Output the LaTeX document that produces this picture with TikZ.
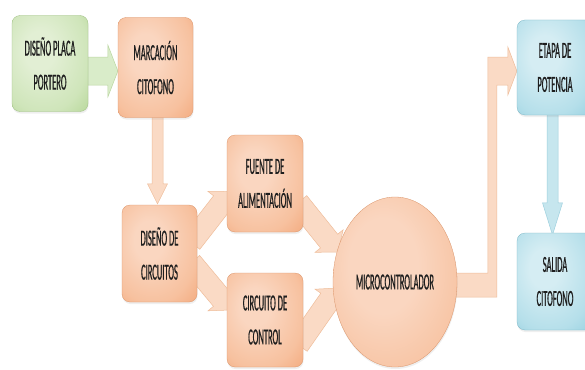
\documentclass[tikz,border=0pt]{standalone}
\usepackage{fontspec}
\newfontfamily\bfnt[FakeStretch=0.37,FakeBold=0.6]{Carlito}
\usetikzlibrary{calc,shapes.geometric,shadows}
\pgfdeclarelayer{bg}
\pgfsetlayers{bg,main}
\definecolor{gIn}{HTML}{E2EFD4}
\definecolor{gMid}{HTML}{CFE5BA}
\definecolor{gOut}{HTML}{AFD38F}
\definecolor{sIn}{HTML}{FAD6C0}
\definecolor{sMid}{HTML}{F7C19F}
\definecolor{sOut}{HTML}{F2A374}
\definecolor{bIn}{HTML}{D5EDF3}
\definecolor{bMid}{HTML}{B5DFEA}
\definecolor{bOut}{HTML}{8ACBDC}
\definecolor{sArr}{HTML}{FADAC5}
\definecolor{sArrD}{HTML}{EFBD9A}
\definecolor{gArr}{HTML}{D9ECC9}
\definecolor{gArrD}{HTML}{BAD7A1}
\definecolor{bArr}{HTML}{C6E6EE}
\definecolor{bArrD}{HTML}{9DD0DE}
\definecolor{txt}{HTML}{1E1E1E}
\pgfdeclareradialshading{shG}{\pgfpoint{-8bp}{8bp}}{color(0bp)=(gIn); color(10bp)=(gIn); color(30bp)=(gMid); color(45bp)=(gOut); color(70bp)=(gOut)}
\pgfdeclareradialshading{shS}{\pgfpoint{-8bp}{8bp}}{color(0bp)=(sIn); color(10bp)=(sIn); color(30bp)=(sMid); color(45bp)=(sOut); color(70bp)=(sOut)}
\pgfdeclareradialshading{shB}{\pgfpoint{-8bp}{8bp}}{color(0bp)=(bIn); color(10bp)=(bIn); color(30bp)=(bMid); color(45bp)=(bOut); color(70bp)=(bOut)}
\pgfdeclareradialshading{shE}{\pgfpoint{-6bp}{6bp}}{color(0bp)=(sIn); color(14bp)=(sIn); color(34bp)=(sMid); color(48bp)=(sOut); color(70bp)=(sOut)}
\newcommand\barrow[6]{%
  \coordinate (tmpA) at (#2); \coordinate (tmpB) at (#3);
  \coordinate (tmpH) at ($(tmpB)!#6!(tmpA)$);
  \path[#1] ($(tmpA)!#4!90:(tmpB)$) -- ($(tmpH)!#4!90:(tmpB)$) -- ($(tmpH)!#5!90:(tmpB)$)
    -- (tmpB) -- ($(tmpH)!#5!-90:(tmpB)$) -- ($(tmpH)!#4!-90:(tmpB)$) -- ($(tmpA)!#4!-90:(tmpB)$) -- cycle;
}
\begin{document}
\begin{tikzpicture}[x=1pt,y=-1pt,
  boxbase/.style={rounded corners=8pt, align=center, text=txt, inner sep=0pt,
    font=\bfnt\fontsize{23}{34}\selectfont,
    drop shadow={opacity=0.12, shadow xshift=0.5pt, shadow yshift=-2pt}},
  gbox/.style={boxbase, draw=gOut!90!black, line width=0.3pt, shading=shG},
  sbox/.style={boxbase, draw=sOut!90!black, line width=0.3pt, shading=shS},
  bbox/.style={boxbase, draw=bOut!90!black, line width=0.3pt, shading=shB},
  sarrow/.style={fill=sArr, draw=sArrD, line width=0.5pt},
  garrow/.style={fill=gArr, draw=gArrD, line width=0.5pt},
  barrowst/.style={fill=bArr, draw=bArrD, line width=0.5pt}]
\useasboundingbox (0,0) rectangle (585,369);

\node[gbox, minimum width=76pt, minimum height=96pt] (dp) at (50,63.5) {DISEÑO PLACA\\PORTERO};
\node[sbox, minimum width=75pt, minimum height=100pt] (mc) at (155.5,67.5) {MARCACIÓN\\CITOFONO};
\node[sbox, minimum width=75pt, minimum height=97pt] (dc) at (159.5,253.5) {DISEÑO DE\\CIRCUITOS};
\node[sbox, minimum width=76pt, minimum height=97pt] (fa) at (265,183.5) {FUENTE DE\\ALIMENTACIÓN};
\node[sbox, minimum width=76pt, minimum height=94pt] (cc) at (265,320) {CIRCUITO DE\\CONTROL};
\node[ellipse, boxbase, rounded corners=0pt, draw=sOut!90!black, line width=0.3pt,
  shading=shE, minimum width=124pt, minimum height=170pt] (micro) at (395,282) {MICROCONTROLADOR};
\node[bbox, minimum width=76pt, minimum height=95pt] (ep) at (555,67.5) {ETAPA DE\\POTENCIA};
\node[bbox, minimum width=76pt, minimum height=97pt] (sc) at (555,281.5) {SALIDA\\CITOFONO};

\begin{pgfonlayer}{bg}
  \fill[white] (0,0) rectangle (585,369);
  % green arrow
  \barrow{garrow}{$(dp.east)+(-4,7.5)$}{$(mc.west)+(0,3.5)$}{14pt}{26pt}{10pt}
  % down arrow
  \barrow{sarrow}{$(mc.south)+(2,-4)$}{$(dc.north)+(-2,-1)$}{5.5pt}{10pt}{20pt}
  % diagonal arrows
  \barrow{sarrow}{$(dc.east)+(-6,-11)$}{$(fa.west)+(4,8)$}{11pt}{18pt}{14pt}
  \barrow{sarrow}{$(dc.east)+(-6,9)$}{$(cc.west)+(4,-10)$}{11pt}{18pt}{14pt}
  \barrow{sarrow}{$(fa.east)+(-5,19)$}{$(micro.west)+(5,-30)$}{11pt}{18pt}{14pt}
  \barrow{sarrow}{$(cc.east)+(-5,25)$}{$(micro.west)+(5,6)$}{11pt}{18pt}{14pt}
  % blue down arrow
  \barrow{barrowst}{$(ep.south)+(-2.5,-3)$}{$(sc.north)+(-2.5,2)$}{5.5pt}{10pt}{32pt}
  % elbow arrow
  \coordinate (m) at ($(micro.east)+(-3,3)$);
  \coordinate (t) at ($(ep.west)+(0,3.5)$);
  \path[sarrow] let \p1=(m), \p2=(t) in
    (\x1,\y1+12pt) -- (\x2-29pt,\y1+12pt) -- (\x2-29pt,\y2+14pt) -- (\x2-9pt,\y2+14pt)
    -- (\x2-9pt,\y2+24pt) -- (\x2,\y2) -- (\x2-9pt,\y2-24pt) -- (\x2-9pt,\y2-14pt)
    -- (\x2-20pt,\y2-14pt) -- (\x2-20pt,\y1-12pt) -- (\x1,\y1-12pt) -- cycle;
\end{pgfonlayer}
\end{tikzpicture}
\end{document}
